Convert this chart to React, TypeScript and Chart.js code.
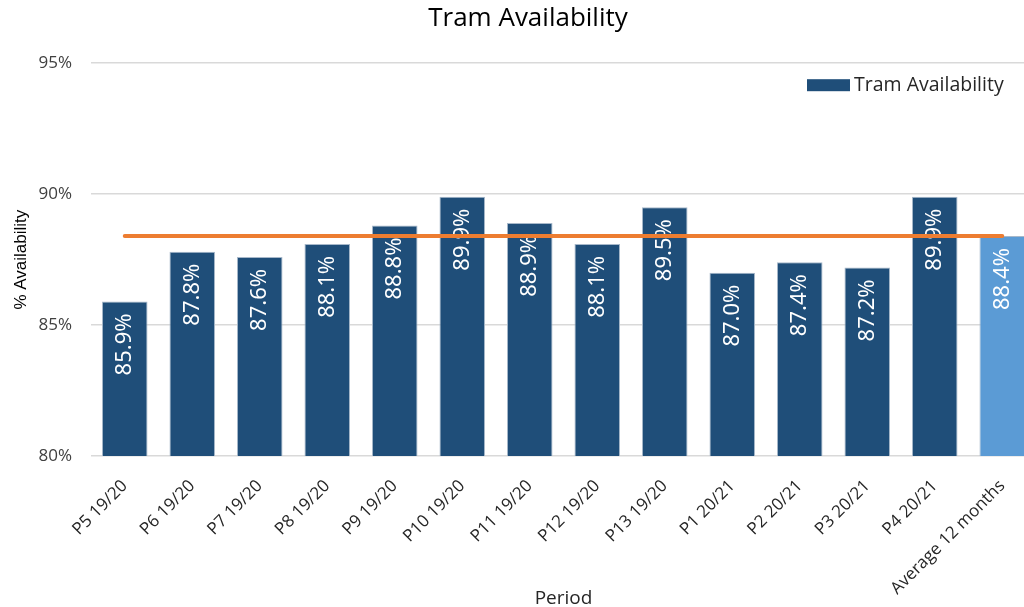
import React, { useEffect, useRef } from "react";
import { Chart, registerables } from "chart.js";

Chart.register(...registerables);

const categories = [
  "P5 19/20", "P6 19/20", "P7 19/20", "P8 19/20", "P9 19/20", "P10 19/20",
  "P11 19/20", "P12 19/20", "P13 19/20", "P1 20/21", "P2 20/21", "P3 20/21",
  "P4 20/21", "Average 12 months",
];
const availability = [85.9, 87.8, 87.6, 88.1, 88.8, 89.9, 88.9, 88.1, 89.5, 87.0, 87.4, 87.2, 89.9, 88.4];
const averageLine = [88.4, 88.4, 88.4, 88.4, 88.4, 88.4, 88.4, 88.4, 88.4, 88.4, 88.4, 88.4, 88.4, 88.4];
const yTicks = [80, 85, 90, 95];

const DARK = "#1F4E79";
const LIGHT = "#5B9BD5";
const ORANGE = "#ED7D31";
const barColors = availability.map((_, i) => (i === availability.length - 1 ? LIGHT : DARK));

const barLabelPlugin = {
  id: "barLabels",
  afterDatasetDraw(chart: any, args: any) {
    if (args.index !== 0) return;
    const meta = args.meta;
    const ctx = chart.ctx;
    ctx.save();
    ctx.fillStyle = "#FFFFFF";
    ctx.font = '22px "Noto Sans"';
    ctx.textAlign = "right";
    ctx.textBaseline = "middle";
    meta.data.forEach((bar: any, i: number) => {
      ctx.save();
      ctx.translate(bar.x, bar.y + 12);
      ctx.rotate(-Math.PI / 2);
      ctx.fillText(availability[i].toFixed(1) + "%", 0, 0);
      ctx.restore();
    });
    ctx.restore();
  },
};

const legendPlugin = {
  id: "customLegend",
  afterDraw(chart: any) {
    const { ctx, chartArea } = chart;
    const x = chartArea.right - 229;
    const y = chartArea.top + 16;
    ctx.save();
    ctx.fillStyle = DARK;
    ctx.fillRect(x, y, 43, 12);
    ctx.fillStyle = "#262626";
    ctx.font = '19.5px "Open Sans"';
    ctx.textAlign = "left";
    ctx.textBaseline = "middle";
    ctx.fillText("Tram Availability", x + 47, y + 6);
    ctx.restore();
  },
};

export default function App() {
  const ref = useRef<HTMLCanvasElement>(null);
  useEffect(() => {
    if (!ref.current) return;
    const chart = new Chart(ref.current, {
      type: "bar",
      data: {
        labels: categories,
        datasets: [
          {
            type: "bar",
            label: "Tram Availability",
            data: availability,
            backgroundColor: barColors,
            borderColor: "#A7B8CA",
            borderWidth: 1,
            categoryPercentage: 1,
            barPercentage: 0.675,
            order: 1,
          },
          {
            type: "line",
            label: "Average",
            data: averageLine,
            borderColor: ORANGE,
            borderWidth: 4,
            borderCapStyle: "round",
            pointRadius: 0,
            fill: false,
            order: 0,
          } as any,
        ],
      },
      options: {
        responsive: false,
        animation: false,
        layout: { padding: { left: 20, right: 20, top: 0, bottom: 0 } },
        plugins: {
          legend: { display: false },
          tooltip: { enabled: false },
          title: {
            display: true,
            text: "Tram Availability",
            color: "#000000",
            font: { family: "Open Sans", size: 26, weight: "normal" },
            padding: { top: 3, bottom: 29 },
          },
        },
        scales: {
          x: {
            offset: true,
            grid: { display: false },
            border: { display: false },
            ticks: {
              color: "#262626",
              font: { family: "Open Sans", size: 17 },
              minRotation: 45,
              maxRotation: 45,
              autoSkip: false,
              padding: 12,
            },
            title: {
              display: true,
              text: "Period",
              color: "#262626",
              font: { family: "Open Sans", size: 19 },
              padding: { top: -3, bottom: -3 },
            },
            afterFit(scale: any) {
              scale.height = 151;
            },
          },
          y: {
            min: 80,
            max: 95,
            afterBuildTicks(scale: any) {
              scale.ticks = yTicks.map((v) => ({ value: v }));
            },
            grid: { color: "#D9D9D9", lineWidth: 1.5, drawTicks: false },
            border: { display: false },
            ticks: {
              color: "#404040",
              font: { family: "Open Sans", size: 17 },
              padding: 19,
              callback: (v: any) => v + "%",
            },
            title: {
              display: true,
              text: "% Availability",
              color: "#000000",
              font: { family: "Liberation Sans", size: 17 },
              padding: { top: -9, bottom: 0 },
            },
            afterFit(scale: any) {
              scale.width = 71;
            },
          },
        },
      },
      plugins: [barLabelPlugin, legendPlugin],
    });
    return () => chart.destroy();
  }, []);
  return (
    <div
      style={{
        position: "fixed",
        left: 0,
        top: 0,
        width: 1024,
        height: 607,
        overflow: "hidden",
        background: "#ffffff",
      }}
    >
      <canvas ref={ref} width={1056} height={607} style={{ display: "block" }} />
    </div>
  );
}
